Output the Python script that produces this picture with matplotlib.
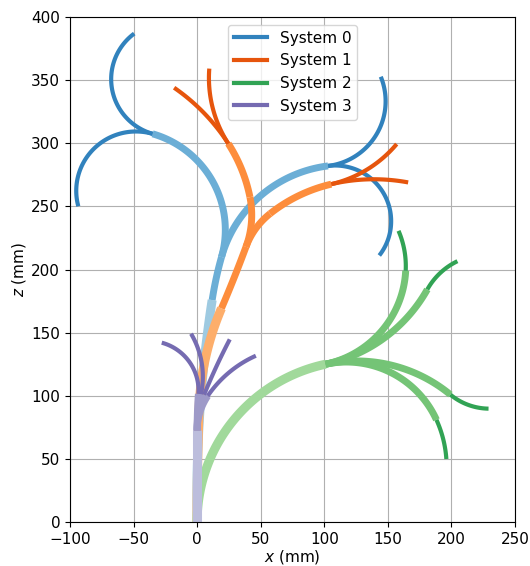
import numpy as np
import matplotlib
matplotlib.use("Agg")
import matplotlib.pyplot as plt
from matplotlib.lines import Line2D

# ---------------- data ----------------
# Each system is a tree of constant-curvature arc pieces.
# parent: index of parent piece (-1 = base at origin)
# level : 0 = base section, 1 = middle section, 2 = tip section
# length: arc length (mm), bend: total bending angle of the piece (deg)
system_names = ["System 0", "System 1", "System 2", "System 3"]
base_heading = [91.0, 90.0, 90.0, 90.0]   # deg, initial direction at origin

s0_parent = [-1, 0, 1, 1, 2, 2, 3, 3]
s0_level = [0, 1, 1, 1, 2, 2, 2, 2]
s0_length = [176.4, 35.0, 123.8, 117.1, 99.4, 100.0, 94.6, 104.0]
s0_bend = [-9.7, -7.0, 89.6, -67.2, 121.2, -127.2, 105.0, -135.0]

s1_parent = [-1, 0, 1, 2, 3, 2, 5, 4, 4, 6, 6]
s1_level = [0, 0, 1, 1, 1, 1, 1, 2, 2, 2, 2]
s1_length = [90.0, 81.6, 52.5, 39.9, 46.0, 32.7, 54.0, 62.3, 61.8, 61.5, 60.9]
s1_bend = [-2.0, -21.0, 2.8, 31.4, 21.4, -31.2, -25.4, -37.0, 22.6, 37.0, -23.8]

s2_parent = [-1, 0, 0, 0, 0, 1, 2, 3, 4]
s2_level = [0, 1, 1, 1, 1, 2, 2, 2, 2]
s2_length = [173.8, 104.5, 102.6, 104.6, 105.6, 32.4, 33.1, 32.6, 32.2]
s2_bend = [-77.9, 75.0, 48.8, -51.8, -77.8, 26.0, -35.0, 38.8, -20.4]

s3_parent = [-1, 0, 0, 0, 0, 1, 2, 3, 4]
s3_level = [0, 1, 1, 1, 1, 2, 2, 2, 2]
s3_length = [72.5, 29.0, 29.0, 29.0, 29.0, 53.9, 49.6, 48.3, 50.1]
s3_bend = [0.0, -4.0, -12.0, -22.0, -34.0, 78.8, 42.5, -5.4, -31.8]

systems = [
    (s0_parent, s0_level, s0_length, s0_bend),
    (s1_parent, s1_level, s1_length, s1_bend),
    (s2_parent, s2_level, s2_length, s2_bend),
    (s3_parent, s3_level, s3_length, s3_bend),
]

# ---------------- styling ----------------
cmap = plt.get_cmap("tab20c")
shade_for_level = [2, 1, 0]
width_for_level = [6.5, 5.0, 3.0]


def arc_points(x0, z0, h0, length, bend, n=120):
    s = np.linspace(0.0, length, n)
    if abs(bend) < 1e-9:
        x = x0 + s * np.cos(h0)
        z = z0 + s * np.sin(h0)
    else:
        k = bend / length
        x = x0 + (np.sin(h0 + k * s) - np.sin(h0)) / k
        z = z0 - (np.cos(h0 + k * s) - np.cos(h0)) / k
    return x, z, h0 + bend


fig = plt.figure(figsize=(5.3, 5.66), dpi=100)
ax = fig.add_axes([0.132, 0.0777, 0.8397, 0.8923])

for si, (parent, level, length, bend) in enumerate(systems):
    ends = [None] * len(parent)
    order = sorted(range(len(parent)), key=lambda j: level[j])
    # compute geometry in tree order
    for i in range(len(parent)):
        if parent[i] < 0:
            x0, z0, h0 = 0.0, 0.0, np.deg2rad(base_heading[si])
        else:
            x0, z0, h0 = ends[parent[i]][2:]
        x, z, h1 = arc_points(x0, z0, h0, length[i], np.deg2rad(bend[i]))
        ends[i] = (x, z, x[-1], z[-1], h1)
    for i in order:
        lv = level[i]
        ax.plot(ends[i][0], ends[i][1], color=cmap(4 * si + shade_for_level[lv]),
                lw=width_for_level[lv], solid_capstyle="butt", zorder=2)

handles = [Line2D([0], [0], color=cmap(4 * si), lw=3) for si in range(4)]
ax.legend(handles, system_names, loc="upper center", fontsize=11,
          handlelength=2.2)

ax.set_xlim(-100, 250)
ax.set_ylim(0, 400)
ax.set_xticks(np.arange(-100, 251, 50))
ax.set_yticks(np.arange(0, 401, 50))
ax.tick_params(labelsize=11)
ax.grid(True, color="#b0b0b0", lw=0.8)
ax.set_axisbelow(True)
ax.set_xlabel("$x$ (mm)", fontsize=11, labelpad=1)
ax.set_ylabel("$z$ (mm)", fontsize=11, labelpad=2)

fig.savefig("out.png", dpi=100)
